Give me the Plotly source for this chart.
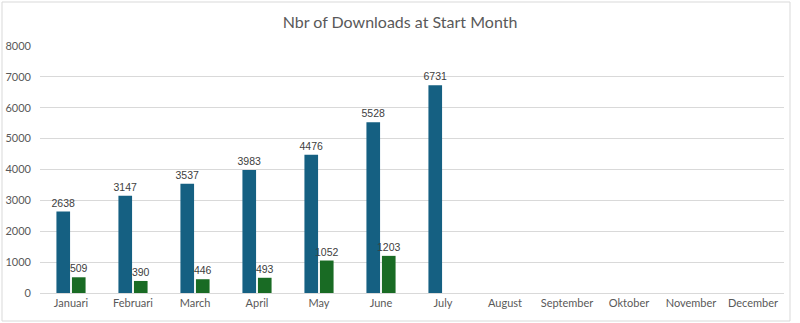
import plotly.graph_objects as go

months = ["Januari", "Februari", "March", "April", "May", "June", "July",
          "August", "September", "Oktober", "November", "December"]
downloads_total = [2638, 3147, 3537, 3983, 4476, 5528, 6731, None, None, None, None, None]
downloads_start = [509, 390, 446, 493, 1052, 1203, None, None, None, None, None, None]
y_ticks = [0, 1000, 2000, 3000, 4000, 5000, 6000, 7000, 8000]

FONT = "Lato"
LABEL_FONT = "Liberation Sans"

def labels(vals):
    return [str(v) if v is not None else "" for v in vals]

fig = go.Figure()
fig.add_trace(go.Bar(
    x=months, y=downloads_total, name="Total",
    marker_color="#156082", marker_line_width=0,
    text=labels(downloads_total), textposition="outside",
    textfont=dict(size=10.5, color="#404040", family=LABEL_FONT),
    constraintext="none", cliponaxis=False,
))
fig.add_trace(go.Bar(
    x=months, y=downloads_start, name="Start",
    marker_color="#196B24", marker_line_width=0,
    text=labels(downloads_start), textposition="outside",
    textfont=dict(size=10.5, color="#404040", family=LABEL_FONT),
    constraintext="none", cliponaxis=False,
))

fig.update_layout(
    width=800, height=323,
    margin=dict(l=40, r=16, t=46, b=30),
    paper_bgcolor="white", plot_bgcolor="white",
    showlegend=False,
    barmode="group", bargap=0.5, bargroupgap=0.12,
    title=dict(text="Nbr of Downloads at Start Month", x=0.5, xanchor="center",
               y=0.93, yanchor="middle",
               font=dict(size=16, color="#595959", family=FONT)),
    font=dict(family=FONT, color="#595959", size=11),
)
fig.update_xaxes(showgrid=False, showline=True, linecolor="#d9d9d9", linewidth=1,
                 ticks="", automargin=False, tickfont=dict(size=11, color="#595959"))
fig.update_yaxes(range=[0, 8000], tickvals=y_ticks, showgrid=True, gridcolor="#d9d9d9",
                 gridwidth=1, zeroline=False, showline=False, ticks="",
                 ticklabelstandoff=8, automargin=False,
                 tickfont=dict(size=11, color="#595959"))

# chart border
fig.add_shape(type="rect", xref="paper", yref="paper",
              x0=-38/744, x1=1 + 6/744, y0=-28/247, y1=1 + 44/247,
              line=dict(color="#d9d9d9", width=1), fillcolor="rgba(0,0,0,0)", layer="below")

fig.write_html("out.html")
